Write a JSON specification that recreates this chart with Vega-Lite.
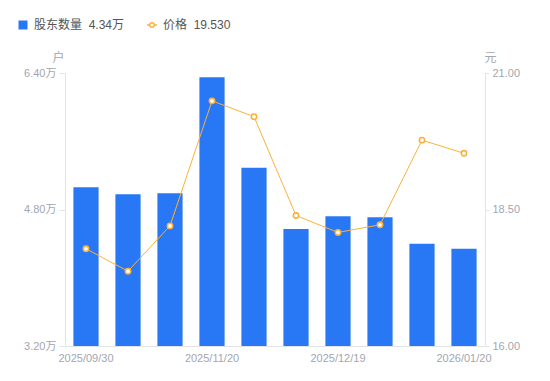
{
  "$schema": "https://vega.github.io/schema/vega-lite/v6.json",
  "width": 420,
  "height": 273,
  "autosize": {"type": "none"},
  "padding": {"left": 65, "top": 73, "right": 65, "bottom": 35},
  "background": "white",
  "config": {
    "view": {"stroke": null},
    "font": "Liberation Sans, Noto Sans CJK SC",
    "axis": {"grid": false, "labelFont": "Liberation Sans, Noto Sans CJK SC", "titleFont": "Liberation Sans, Noto Sans CJK SC"},
    "legend": {"labelFont": "Liberation Sans, Noto Sans CJK SC"}
  },
  "data": {
    "values": [
      {"date": "2025/09/30", "holders": 5.06, "price": 17.78},
      {"date": "2025/10/20", "holders": 4.98, "price": 17.37},
      {"date": "2025/10/31", "holders": 4.99, "price": 18.20},
      {"date": "2025/11/20", "holders": 6.35, "price": 20.49},
      {"date": "2025/11/28", "holders": 5.29, "price": 20.20},
      {"date": "2025/12/10", "holders": 4.57, "price": 18.39},
      {"date": "2025/12/19", "holders": 4.72, "price": 18.08},
      {"date": "2025/12/31", "holders": 4.71, "price": 18.22},
      {"date": "2026/01/09", "holders": 4.40, "price": 19.77},
      {"date": "2026/01/20", "holders": 4.34, "price": 19.53}
    ]
  },
  "encoding": {
    "x": {
      "field": "date",
      "type": "ordinal",
      "sort": null,
      "scale": {"paddingInner": 0.4, "paddingOuter": 0.2},
      "axis": {
        "title": null,
        "labelAngle": 0,
        "ticks": false,
        "domainColor": "#e3e4e8",
        "labelColor": "#a3a6b0",
        "labelFontSize": 11,
        "labelPadding": 6,
        "values": ["2025/09/30", "2025/11/20", "2025/12/19", "2026/01/20"]
      }
    }
  },
  "layer": [
    {
      "mark": {"type": "bar"},
      "encoding": {
        "y": {
          "field": "holders",
          "type": "quantitative",
          "scale": {"domain": [3.2, 6.4], "nice": false, "zero": false},
          "axis": {
            "orient": "left",
            "values": [3.2, 4.8, 6.4],
            "labelExpr": "format(datum.value,'.2f')+'万'",
            "title": "户",
            "titleAngle": 0,
            "titleX": -7,
            "titleY": -16,
            "titleAlign": "center",
            "titleBaseline": "middle",
            "titleFontWeight": "normal",
            "titleColor": "#a3a6b0",
            "titleFontSize": 12,
            "tickSize": 6,
            "tickColor": "#e3e4e8",
            "domainColor": "#e3e4e8",
            "labelColor": "#a3a6b0",
            "labelFontSize": 11,
            "labelPadding": 3
          }
        },
        "y2": {"datum": 3.2},
        "color": {
          "datum": "股东数量",
          "scale": {"range": ["#2878f5"]},
          "legend": {
            "orient": "none",
            "legendX": -48,
            "legendY": -54,
            "direction": "horizontal",
            "title": null,
            "symbolType": "square",
            "symbolSize": 81,
            "labelExpr": "datum.label + '\u00a0\u00a0' + '4.34万'",
            "labelFontSize": 12,
            "labelColor": "#555555",
            "labelOffset": 5,
            "padding": 0
          }
        }
      }
    },
    {
      "mark": {
        "type": "line",
        "strokeWidth": 1,
        "point": {"filled": false, "fill": "white", "strokeWidth": 1.6, "size": 28}
      },
      "encoding": {
        "y": {
          "field": "price",
          "type": "quantitative",
          "scale": {"domain": [16, 21], "nice": false, "zero": false},
          "axis": {
            "orient": "right",
            "values": [16, 18.5, 21],
            "format": ".2f",
            "title": "元",
            "titleAngle": 0,
            "titleX": 5,
            "titleY": -16,
            "titleAlign": "center",
            "titleBaseline": "middle",
            "titleFontWeight": "normal",
            "titleColor": "#a3a6b0",
            "titleFontSize": 12,
            "tickSize": 4,
            "tickColor": "#e3e4e8",
            "domainColor": "#e3e4e8",
            "labelColor": "#a3a6b0",
            "labelFontSize": 11,
            "labelPadding": 3
          }
        },
        "stroke": {
          "datum": "价格",
          "scale": {"range": ["#fbb13c"]},
          "legend": {
            "orient": "none",
            "legendX": 81,
            "legendY": -54,
            "direction": "horizontal",
            "title": null,
            "symbolType": "M-1,0L-0.45,0M0.45,0L1,0M-0.45,0A0.45,0.45,0,1,1,0.45,0A0.45,0.45,0,1,1,-0.45,0Z",
            "symbolSize": 100,
            "symbolFillColor": "white",
            "symbolStrokeWidth": 1.5,
            "labelExpr": "datum.label + '\u00a0\u00a0' + '19.530'",
            "labelFontSize": 12,
            "labelColor": "#555555",
            "labelOffset": 5,
            "padding": 0
          }
        }
      }
    }
  ],
  "resolve": {"scale": {"y": "independent"}}
}
